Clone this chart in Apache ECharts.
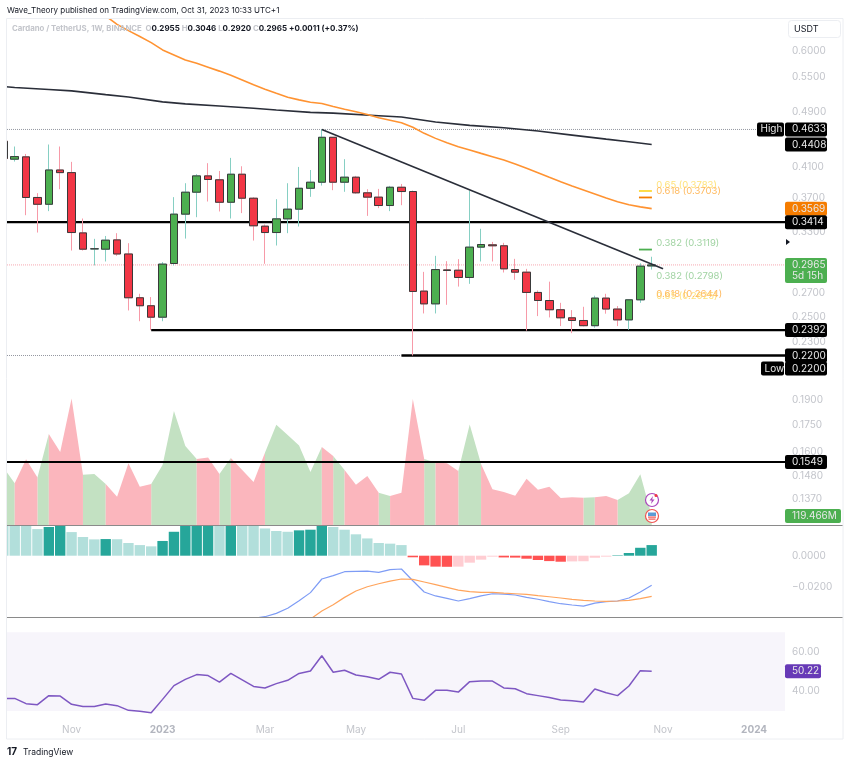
<!DOCTYPE html>
<html><head><meta charset="utf-8">
<style>html,body{margin:0;padding:0;background:#fff}#c{width:850px;height:763px}</style>
<script src="https://cdn.jsdelivr.net/npm/echarts@6/dist/echarts.min.js"></script>
</head><body><div id="c"></div>
<script>
// ---- weekly candles (first one is cut off by the left edge)
const opens=[.4457,.4201,.4233,.3703,.3621,.4054,.4019,.3295,.3126,.3123,.3220,.3074,.2661,.2592,.2496,.2979,.3505,.3768,.3976,.3925,.3645,.3998,.3694,.3369,.3299,.3451,.3563,.3817,.3894,.4515,.3894,.3959,.3760,.3707,.3606,.3830,.3776,.2720,.2608,.2917,.2914,.2845,.3144,.3168,.3158,.2920,.2895,.2708,.2637,.2558,.2491,.2469,.2427,.2658,.2564,.2474,.2643,.2955];
const closes=[.4210,.4237,.3703,.3621,.4054,.4019,.3299,.3123,.3127,.3217,.3074,.2661,.2592,.2496,.2973,.3505,.3768,.3976,.3929,.3645,.3998,.3694,.3373,.3299,.3451,.3563,.3817,.3894,.4515,.3894,.3959,.3760,.3707,.3606,.3830,.3776,.2717,.2608,.2920,.2911,.2845,.3144,.3171,.3158,.2927,.2895,.2708,.2637,.2558,.2491,.2469,.2427,.2658,.2564,.2474,.2643,.2953,.2965];
const highs=[.4467,.4380,.4274,.3756,.4409,.4380,.4164,.3455,.3231,.3262,.3292,.3185,.2696,.2667,.2993,.3707,.3881,.3998,.4146,.4041,.4219,.4104,.3707,.3388,.3682,.3881,.4095,.4054,.4633,.4515,.4201,.3976,.3805,.3809,.3847,.3872,.3789,.2898,.3055,.3002,.3022,.3789,.3340,.3199,.3189,.3025,.2927,.2726,.2806,.2617,.2555,.2583,.2679,.2696,.2589,.2643,.2981,.3046];
const lows=[.4201,.4168,.3493,.3299,.3540,.3805,.3109,.3109,.2960,.2999,.3055,.2552,.2463,.2392,.2463,.2960,.3234,.3470,.3654,.3536,.3455,.3517,.3213,.2976,.3161,.3292,.3365,.3711,.3851,.3793,.3773,.3748,.3485,.3575,.3540,.3610,.2200,.2527,.2527,.2600,.2761,.2786,.2999,.2999,.2892,.2823,.2388,.2505,.2494,.2424,.2368,.2421,.2411,.2525,.2424,.2395,.2617,.2920];
// ---- volume, millions
const volumes=[765,553,871,632,1207,968,1680,667,676,544,376,818,508,544,796,1512,1048,875,897,676,888,729,570,959,1330,1193,1056,703,1034,915,729,535,650,429,385,429,1671,875,831,818,716,1335,809,473,438,389,614,469,508,358,367,362,367,385,332,420,672,119.466];
// ---- moving averages
const ma200Weeks=[0,1,4,6,9,11,14,16,19,22,24,27,29,33,35,38,41,44,47,50,53,55,57];
const ma200Values=[.5338,.5320,.5285,.5261,.5197,.5157,.5074,.5040,.5006,.4968,.4940,.4902,.4890,.4848,.4827,.4748,.4696,.4660,.4610,.4548,.4488,.4450,.4408];
const ma100First=9;
const ma100Values=[.6733,.6551,.6417,.6293,.6167,.6021,.5923,.5824,.5762,.5688,.5615,.5539,.5455,.5367,.5290,.5219,.5152,.5107,.5068,.5046,.4996,.4952,.4912,.4867,.4816,.4777,.4738,.4666,.4574,.4499,.4436,.4377,.4330,.4282,.4235,.4189,.4134,.4076,.4018,.3957,.3900,.3845,.3795,.3745,.3696,.3652,.3616,.3590,.3569];
// ---- MACD
const histogram=[.0230,.0225,.0210,.0168,.0181,.0195,.0149,.0118,.0103,.0105,.0104,.0080,.0067,.0059,.0093,.0151,.0200,.0215,.0225,.0210,.0220,.0210,.0200,.0172,.0156,.0151,.0160,.0164,.0195,.0181,.0164,.0135,.0109,.0080,.0076,.0067,-.0010,-.0061,-.0069,-.0070,-.0069,-.0044,-.0025,-.0006,-.0011,-.0012,-.0019,-.0027,-.0034,-.0038,-.0036,-.0035,-.0013,-.0006,.0003,.0017,.0050,.0067];
const macdFirst=22;
const macdValues=[-.0395,-.0385,-.0364,-.0332,-.0284,-.0233,-.0147,-.0126,-.0101,-.0099,-.0097,-.0105,-.0088,-.0084,-.0158,-.0229,-.0254,-.0269,-.0286,-.0271,-.0254,-.0240,-.0242,-.0248,-.0263,-.0275,-.0290,-.0303,-.0311,-.0318,-.0299,-.0290,-.0286,-.0267,-.0229,-.0187];
const signalFirst=27;
const signalValues=[-.0400,-.0349,-.0309,-.0263,-.0223,-.0196,-.0177,-.0160,-.0147,-.0149,-.0166,-.0183,-.0200,-.0217,-.0227,-.0231,-.0231,-.0236,-.0240,-.0244,-.0252,-.0259,-.0267,-.0275,-.0282,-.0286,-.0288,-.0286,-.0282,-.0271,-.0257];
// ---- RSI
const rsiValues=[36.25,36.4,33.7,33.2,37.8,37.6,33.4,32.3,32.3,33.5,32.7,30.3,29.8,29.1,35.9,42.9,46.1,48.5,48.0,44.7,49.1,45.8,42.5,41.7,43.9,45.6,49.1,50.3,58.1,49.7,50.7,48.3,47.4,46.1,49.7,48.8,36.4,35.4,40.5,40.5,39.6,44.9,45.2,45.2,41.7,41.3,38.8,37.8,36.8,35.6,35.2,34.6,41.2,39.3,37.8,42.7,50.5,50.22];
// ---- axis ticks
const priceTicks=[.6,.55,.49,.41,.37,.33,.27,.25,.23,.19,.175,.16,.148,.137];
const macdTicks=[0,-.02];
const rsiTicks=[60,40];
const timeTickWeeks=[6,14,23,31,40,49,58,66];
const timeTickLabels=['Nov','2023','Mar','May','Jul','Sep','Nov','2024'];
// ---- drawn levels
const levelValues=[.3414,.2392,.2200,.1549];
const levelStart=[0,13,35,0];
const trendWeeks=[28,58];
const trendValues=[.4633,.2929];
const fibTickValues=[.3783,.3703,.3119];
const fibLabelTexts=['0.65 (0.3783)','0.618 (0.3703)','0.382 (0.3119)','0.382 (0.2798)','0.65 (0.2625)','0.618 (0.2644)'];
const fibLabelValues=[.3783,.3703,.3119,.2798,.2625,.2644];
// ---- right-hand tags
const tagValues=[.4633,.4408,.3569,.3414,.2965,.2392,.2200,.2200,.1549];
const tagTexts=['0.4633','0.4408','0.3569','0.3414','0.2965','0.2392','0.2200','0.2200','0.1549'];

// ---- styling and assembly
const FONT='Inter';
const XMIN=0.323, XMAX=68.72;
const GREY='#c3c5cb';
const weeks=opens.map((_,i)=>i);
const tagFills=['#000','#000','#f57c00','#000','#4caf50','#000','#000','#000','#000'];
const tagDy=[0,0,0,0,0,0,0,13,0];
const fibColors=['#ffe27a','#ffb95e','#a0d3a2','#a0d3a2','#ffe27a','#ffb95e'];
const fibTickColors=['#fdd835','#f57c00','#4caf50'];

function tagShape(x,y,text,fill,opt){
  opt=opt||{};
  const w=opt.w||42, top=opt.top!=null?opt.top:y-7, h=opt.h||14;
  const kids=[{type:'rect',shape:{x:x,y:top,width:w,height:h,r:2},style:{fill:fill}},
   {type:'text',style:{x:x+(opt.tx||7),y:top+7,text:text,fill:'#e8e8e8',font:'10px '+FONT,verticalAlign:'middle',textAlign:'left'}}];
  return kids;
}
function axisX(grid,show){
  return {type:'value',gridIndex:grid,min:XMIN,max:XMAX,splitLine:{show:false},axisLine:{show:false},axisTick:{show:false},
    axisLabel:show?{show:true,customValues:timeTickWeeks,margin:5,fontFamily:FONT,fontSize:10,color:GREY,
      formatter:v=>{const t=timeTickLabels[timeTickWeeks.indexOf(v)]||'';return /^\d/.test(t)?'{b|'+t+'}':t;},
      rich:{b:{fontWeight:'bold',color:'#b2b5be',fontFamily:FONT,fontSize:10}}}:{show:false}};
}
function axisY(grid,o){
  return Object.assign({gridIndex:grid,position:'right',scale:true,splitLine:{show:false},axisLine:{show:false},axisTick:{show:false},
    axisLabel:{show:false}},o);
}
function labelCfg(values,fmt){return {show:true,customValues:values,formatter:fmt,margin:7,align:'left',fontFamily:FONT,fontSize:10,color:GREY,showMinLabel:true,showMaxLabel:true,hideOverlap:false};}

function levelSeries(name,from,to,v,width,color,type,z){
  return {name,type:'line',xAxisIndex:0,yAxisIndex:0,data:[[from,v],[to,v]],showSymbol:false,silent:true,z:z||2,
    lineStyle:{width,color,type:type||'solid'}};
}
// volume area: colour of each segment follows its closing candle
const volGreen=[],volRed=[];
for(let i=1;i<weeks.length;i++){
  const up=closes[i]>=opens[i];
  const arr=up?volGreen:volRed;
  if(arr.length&&arr[arr.length-1][0]!==i-1) arr.push([i-1,null]);
  if(!arr.length||arr[arr.length-1][1]===null) arr.push([i-1,volumes[i-1]]);
  arr.push([i,volumes[i]]);
}
function areaSeries(name,data,color){
  return {name,type:'line',xAxisIndex:0,yAxisIndex:1,data,showSymbol:false,silent:true,z:1,connectNulls:false,
    lineStyle:{width:0,color},itemStyle:{color},areaStyle:{color,opacity:1}};
}
const series=[
  areaSeries('Volume up',volGreen,'#c3e1c2'),
  areaSeries('Volume down',volRed,'#fbb6bd'),
  levelSeries('High',XMIN,XMAX,.4633,1,'#9598a1','dotted'),
  levelSeries('Low',XMIN,35,.2200,1,'#9598a1','dotted'),
  levelSeries('Last',XMIN,XMAX,closes[closes.length-1],1,'#f7a9b1','dotted'),
  {name:'MA 200',type:'line',xAxisIndex:0,yAxisIndex:0,data:ma200Weeks.map((w,i)=>[w,ma200Values[i]]),showSymbol:false,z:2,lineStyle:{width:1.6,color:'#2a2e39'}},
  {name:'MA 100',type:'line',xAxisIndex:0,yAxisIndex:0,data:ma100Values.map((v,i)=>[ma100First+i,v]),showSymbol:false,z:2,lineStyle:{width:1.6,color:'#ff9332'}},
];
levelValues.forEach((v,i)=>series.push(levelSeries('Level '+v,levelStart[i],XMAX,v,v===.1549?1.8:2.4,'#000')));
series.push({name:'Wicks',type:'candlestick',xAxisIndex:0,yAxisIndex:0,barWidth:8,z:3,silent:true,
  data:weeks.map(i=>[i,opens[i],closes[i],lows[i],highs[i]]),encode:{x:0,y:[1,2,3,4]},
  itemStyle:{color:'#4caf50',color0:'#f23645',borderColor:'#86cfc3',borderColor0:'#f79aa8',borderColorDoji:'#86cfc3',borderWidth:1}});
series.push({name:'Bodies',type:'candlestick',xAxisIndex:0,yAxisIndex:0,barWidth:8,z:4,silent:true,
  data:weeks.map(i=>[i,opens[i],closes[i],Math.min(opens[i],closes[i]),Math.max(opens[i],closes[i])]),encode:{x:0,y:[1,2,3,4]},
  itemStyle:{color:'#4caf50',color0:'#f23645',borderColor:'#3a3a3a',borderColor0:'#3a3a3a',borderColorDoji:'#3a3a3a',borderWidth:1}});
series.push({name:'Trend',type:'line',xAxisIndex:0,yAxisIndex:0,data:trendWeeks.map((w,i)=>[w,trendValues[i]]),showSymbol:false,z:5,lineStyle:{width:1.6,color:'#2a2e39'}});
fibTickValues.forEach((v,i)=>series.push({name:'Fib '+v,type:'line',xAxisIndex:0,yAxisIndex:0,data:[[55.88,v],[57.02,v]],showSymbol:false,z:5,lineStyle:{width:1.8,color:fibTickColors[i]}}));
series.push({name:'Fib labels',type:'custom',xAxisIndex:0,yAxisIndex:0,z:6,silent:true,clip:false,
  data:fibLabelValues.map(v=>[57.4,v]),encode:{x:0,y:1},
  renderItem:(p,api)=>{const c=api.coord([api.value(0),api.value(1)]);
    return {type:'text',style:{x:c[0],y:c[1]-6,text:fibLabelTexts[p.dataIndex],fill:fibColors[p.dataIndex],font:'9.5px '+FONT,verticalAlign:'middle'}};}});
// MACD
series.push({name:'Histogram',type:'bar',xAxisIndex:1,yAxisIndex:2,barWidth:10.4,z:2,silent:true,
  data:histogram.map((v,i)=>{const prev=i?histogram[i-1]:Infinity;
    const color=v>=0?(v>=prev?'#26a69a':'#b2dfdb'):(v<prev?'#ff5252':'#ffcdd2');
    return {value:[i,v],itemStyle:{color}};})});
series.push({name:'MACD',type:'line',xAxisIndex:1,yAxisIndex:2,data:macdValues.map((v,i)=>[macdFirst+i,v]),showSymbol:false,z:3,lineStyle:{width:1.2,color:'#7e9cf5'}});
series.push({name:'Signal',type:'line',xAxisIndex:1,yAxisIndex:2,data:signalValues.map((v,i)=>[signalFirst+i,v]),showSymbol:false,z:3,lineStyle:{width:1.2,color:'#ffa45c'}});
// RSI
series.push({name:'RSI',type:'line',xAxisIndex:2,yAxisIndex:3,data:rsiValues.map((v,i)=>[i,v]),showSymbol:false,z:3,lineStyle:{width:1.5,color:'#7e57c2'},
  markArea:{silent:true,itemStyle:{color:'rgba(126,87,194,0.06)'},data:[[{yAxis:70},{yAxis:30}]]}});
// tags
series.push({name:'Price tags',type:'custom',xAxisIndex:0,yAxisIndex:0,z:20,silent:true,clip:false,
  data:tagValues.map(v=>[XMAX,v]),encode:{x:0,y:1},
  renderItem:(p,api)=>{const i=p.dataIndex;const c=api.coord([api.value(0),api.value(1)]);
    const x=p.coordSys.x+p.coordSys.width, y=c[1]+tagDy[i];
    let kids;
    if(i===4){kids=tagShape(x,y,tagTexts[i],tagFills[i],{top:y-7,h:25});
      kids.push({type:'text',style:{x:x+7,y:y+11,text:'5d 15h',fill:'#e8e8e8',font:'10px '+FONT,verticalAlign:'middle'}});}
    else kids=tagShape(x,y,tagTexts[i],tagFills[i]);
    if(i===0) kids=kids.concat(tagShape(x-28,y,'High','#000',{w:27,tx:3.5}));
    if(i===7) kids=kids.concat(tagShape(x-24,y,'Low','#000',{w:23,tx:3.5}));
    return {type:'group',children:kids};}});
series.push({name:'Volume tag',type:'custom',xAxisIndex:0,yAxisIndex:1,z:20,silent:true,clip:false,
  data:[[XMAX,volumes[volumes.length-1]]],encode:{x:0,y:1},
  renderItem:(p,api)=>{const c=api.coord([api.value(0),api.value(1)]);
    return {type:'group',children:tagShape(p.coordSys.x+p.coordSys.width,c[1],'119.466M','#4caf50',{w:56,tx:7})};}});
series.push({name:'RSI tag',type:'custom',xAxisIndex:2,yAxisIndex:3,z:20,silent:true,clip:false,
  data:[[XMAX,rsiValues[rsiValues.length-1]]],encode:{x:0,y:1},
  renderItem:(p,api)=>{const c=api.coord([api.value(0),api.value(1)]);
    return {type:'group',children:tagShape(p.coordSys.x+p.coordSys.width,c[1],'50.22','#673ab7',{w:36,tx:7})};}});

const option={
  animation:false,backgroundColor:'#fff',
  title:[
    {text:'Wave_Theory published on TradingView.com, Oct 31, 2023 10:33 UTC+1',left:7,top:7,padding:0,textStyle:{fontFamily:FONT,fontSize:8,fontWeight:'normal',color:'#131722'}},
    {text:'{g|Cardano / TetherUS, 1W, BINANCE  O}{k|0.2955}{g| H}{k|0.3046}{g| L}{k|0.2920}{g| C}{k|0.2965}{k| +0.0011 (+0.37%)}',left:12,top:25,padding:0,
     textStyle:{rich:{g:{fontFamily:FONT,fontSize:7.8,color:'#c3c5cb'},k:{fontFamily:FONT,fontSize:8,color:'#131722'}}}},
    {text:'TradingView',left:23,top:748,padding:0,textStyle:{fontFamily:FONT,fontSize:8.5,fontWeight:'normal',color:'#131722'}}
  ],
  grid:[
    {left:7,right:65,top:19,height:506},
    {left:7,right:65,top:526,height:91},
    {left:7,right:65,top:618,height:102}
  ],
  xAxis:[axisX(0,false),axisX(1,false),axisX(2,true)],
  yAxis:[
    axisY(0,{type:'log',logBase:10,min:.12586,max:.6667,axisLabel:labelCfg(priceTicks,v=>Number(v).toFixed(4))}),
    axisY(0,{type:'value',min:0,max:6715}),
    axisY(1,{type:'value',min:-.03868,max:.01874,axisLabel:labelCfg(macdTicks,v=>(v<0?'\u2212':'')+Math.abs(v).toFixed(4))}),
    axisY(2,{type:'value',min:25.4,max:77.3,axisLabel:labelCfg(rsiTicks,v=>Number(v).toFixed(2))})
  ],
  series,
  graphic:[
    {type:'rect',z:40,silent:true,shape:{x:0,y:19,width:6,height:701},style:{fill:'#fff'}},
    {type:'rect',z:41,silent:true,shape:{x:6.5,y:18.5,width:836.5,height:720.5},style:{fill:'none',stroke:'#eceef2',lineWidth:1}},
    {type:'line',z:30,silent:true,shape:{x1:7,y1:525.5,x2:843,y2:525.5},style:{stroke:'#8a8a8a',lineWidth:1}},
    {type:'line',z:30,silent:true,shape:{x1:7,y1:617.5,x2:843,y2:617.5},style:{stroke:'#8a8a8a',lineWidth:1}},
    {type:'rect',z:30,silent:true,shape:{x:788.5,y:20.5,width:52,height:17,r:3},style:{fill:'#fff',stroke:'#eceef2'}},
    {type:'text',z:31,silent:true,style:{x:794,y:29,text:'USDT',fill:'#131722',font:'9px '+FONT,verticalAlign:'middle'}},
    {type:'text',z:31,silent:true,style:{x:7,y:751.5,text:'17',fill:'#131722',font:'bold 10px '+FONT,verticalAlign:'middle'}},
    {type:'polygon',z:31,silent:true,shape:{points:[[786,239],[790,242],[786,245]]},style:{fill:'#131722'}},
    {type:'circle',z:31,silent:true,shape:{cx:652,cy:500,r:6.5},style:{fill:'#fff',stroke:'#ab47bc',lineWidth:1.2}},
    {type:'polygon',z:32,silent:true,shape:{points:[[653,496],[649.5,500.5],[651.8,500.5],[651,504],[654.5,499.5],[652.2,499.5]]},style:{fill:'#ab47bc'}},
    {type:'circle',z:32,silent:true,shape:{cx:656,cy:495.5,r:1.5},style:{fill:'#f23645'}},
    {type:'circle',z:31,silent:true,shape:{cx:652,cy:516,r:6.5},style:{fill:'#fff',stroke:'#ef5350',lineWidth:1.2}},
    {type:'rect',z:32,silent:true,shape:{x:648,y:512.5,width:8,height:3.5},style:{fill:'#5b9bd5'}},
    {type:'rect',z:32,silent:true,shape:{x:648,y:516.5,width:8,height:1.2},style:{fill:'#ef5350'}},
    {type:'rect',z:32,silent:true,shape:{x:648.5,y:518.5,width:7,height:1.2},style:{fill:'#ef5350'}}
  ]
};
echarts.init(document.getElementById('c'),null,{renderer:'canvas'}).setOption(option);
</script></body></html>
